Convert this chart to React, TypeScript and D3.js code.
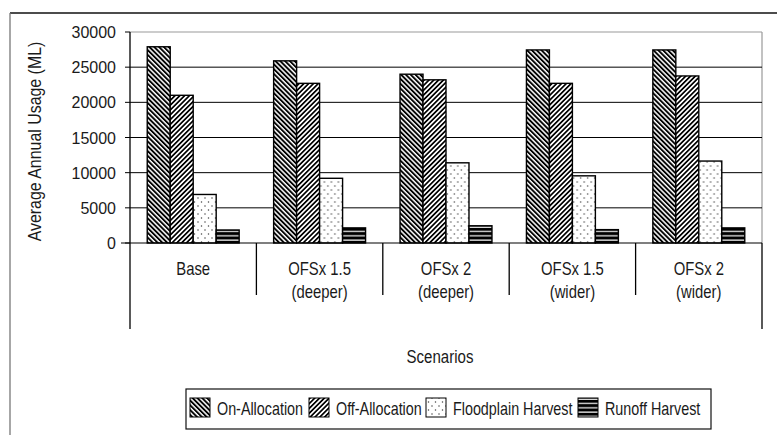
import React from "react";
import * as d3 from "d3";

// Scenario labels (one entry per text line)
const categories: string[][] = [
  ["Base"],
  ["OFSx 1.5", "(deeper)"],
  ["OFSx 2", "(deeper)"],
  ["OFSx 1.5", "(wider)"],
  ["OFSx 2", "(wider)"],
];

const seriesNames = ["On-Allocation", "Off-Allocation", "Floodplain Harvest", "Runoff Harvest"];

// Average annual usage (ML) per scenario
const onAllocation = [27900, 25900, 24000, 27450, 27450];
const offAllocation = [21000, 22700, 23200, 22700, 23750];
const floodplainHarvest = [6900, 9200, 11400, 9550, 11650];
const runoffHarvest = [1850, 2150, 2450, 1900, 2150];

const yTicks = [0, 5000, 10000, 15000, 20000, 25000, 30000];

const seriesValues = [onAllocation, offAllocation, floodplainHarvest, runoffHarvest];
const patternIds = ["pat-on", "pat-off", "pat-flood", "pat-runoff"];

const FONT = "'Liberation Sans', Arial, sans-serif";
const INK = "#1a1a1a";

// Condensed text: regular sans squeezed horizontally
function T(props: {
  x: number;
  y: number;
  size: number;
  sx?: number;
  anchor?: "start" | "middle" | "end";
  rotate?: number;
  children: React.ReactNode;
}) {
  const { x, y, size, sx = 0.83, anchor = "start", rotate = 0, children } = props;
  return (
    <text
      transform={`translate(${x},${y}) rotate(${rotate}) scale(${sx},1)`}
      textAnchor={anchor}
      fontSize={size}
      fill={INK}
    >
      {children}
    </text>
  );
}

export default function App() {
  const W = 777;
  const H = 435;
  const left = 130;
  const right = 762;
  const top = 32;
  const bottom = 243;

  const keys = categories.map((c) => c.join(" "));
  const x = d3.scaleBand<string>().domain(keys).range([left, right]).padding(0);
  const xInner = d3
    .scaleBand<string>()
    .domain(seriesNames)
    .range([0, x.bandwidth()])
    .paddingInner(0)
    .paddingOuter(0.75);
  const y = d3.scaleLinear().domain([0, 30000]).range([bottom, top]);

  const catEdges = keys.map((k) => x(k)!);

  const legendX = [190, 309, 426, 578];

  return (
    <svg
      width={W}
      height={H}
      style={{ position: "absolute", left: 0, top: 0, background: "#fff" }}
      fontFamily={FONT}
    >
      <defs>
        <pattern id="pat-on" patternUnits="userSpaceOnUse" width={3.4} height={10} patternTransform="rotate(-45)">
          <rect width={3.4} height={10} fill="#fff" />
          <rect width={1.9} height={10} fill="#000" />
        </pattern>
        <pattern id="pat-off" patternUnits="userSpaceOnUse" width={3.4} height={10} patternTransform="rotate(45)">
          <rect width={3.4} height={10} fill="#fff" />
          <rect width={1.7} height={10} fill="#000" />
        </pattern>
        <pattern id="pat-flood" patternUnits="userSpaceOnUse" width={7} height={8}>
          <rect width={7} height={8} fill="#fff" />
          <circle cx={1.5} cy={2} r={0.75} fill="#444" />
          <circle cx={5} cy={6} r={0.75} fill="#444" />
        </pattern>
        <pattern id="pat-runoff" patternUnits="userSpaceOnUse" width={10} height={4.3}>
          <rect width={10} height={4.3} fill="#000" />
          <rect y={3} width={10} height={1.2} fill="#fff" />
        </pattern>
      </defs>

      {/* outer frame */}
      <line x1={10} x2={777} y1={13} y2={13} stroke="#111" strokeWidth={1.3} />
      <line x1={10} x2={10} y1={13} y2={435} stroke="#777" strokeWidth={1.3} />

      {/* plot border (top and right) */}
      <line x1={left} x2={right} y1={top} y2={top} stroke="#999" strokeWidth={1.2} />
      <line x1={right} x2={right} y1={top} y2={bottom} stroke="#999" strokeWidth={1.2} />

      {/* gridlines, ticks and labels */}
      {yTicks.map((t) => (
        <g key={t}>
          {t > 0 && t < 30000 && (
            <line x1={left} x2={right} y1={y(t)} y2={y(t)} stroke="#000" strokeWidth={1} />
          )}
          <line x1={left - 5} x2={left} y1={y(t)} y2={y(t)} stroke="#000" strokeWidth={1} />
          <T x={116} y={y(t) + 6} size={16.5} sx={0.97} anchor="end">
            {t}
          </T>
        </g>
      ))}

      {/* bars */}
      {keys.map((k, ci) => (
        <g key={k} transform={`translate(${x(k)},0)`}>
          {seriesNames.map((s, si) => {
            const v = seriesValues[si][ci];
            return (
              <rect
                key={s}
                x={xInner(s)!}
                y={y(v)}
                width={xInner.bandwidth()}
                height={y(0) - y(v)}
                fill={`url(#${patternIds[si]})`}
                stroke="#000"
                strokeWidth={1.4}
              />
            );
          })}
        </g>
      ))}

      {/* x axis */}
      <line x1={left - 9} x2={right} y1={bottom} y2={bottom} stroke="#000" strokeWidth={1.2} />
      <line x1={left} x2={left} y1={top} y2={329} stroke="#000" strokeWidth={1.3} />
      <line x1={right} x2={right} y1={bottom} y2={329} stroke="#000" strokeWidth={1.3} />
      {catEdges.slice(1).map((ex, i) => (
        <line key={i} x1={ex} x2={ex} y1={bottom} y2={295} stroke="#000" strokeWidth={1.3} />
      ))}

      {/* category labels */}
      {categories.map((lines, ci) =>
        lines.map((ln, li) => (
          <T
            key={`${ci}-${li}`}
            x={x(keys[ci])! + x.bandwidth() / 2}
            y={275 + li * 23}
            size={17.7}
            sx={0.84}
            anchor="middle"
          >
            {ln}
          </T>
        ))
      )}

      {/* axis titles */}
      <T x={440} y={363} size={17.7} sx={0.85} anchor="middle">
        Scenarios
      </T>
      <T x={41} y={(top + bottom) / 2 + 4} size={17.5} sx={0.91} anchor="middle" rotate={-90}>
        Average Annual Usage (ML)
      </T>

      {/* legend */}
      <rect x={186} y={389} width={525} height={40} fill="#fff" stroke="#111" strokeWidth={1.2} />
      {seriesNames.map((s, si) => (
        <g key={s}>
          <rect
            x={legendX[si]}
            y={398}
            width={20}
            height={19}
            fill={`url(#${patternIds[si]})`}
            stroke="#000"
            strokeWidth={1}
          />
          <T x={legendX[si] + 27} y={415} size={17.7} sx={0.81}>
            {s}
          </T>
        </g>
      ))}
    </svg>
  );
}
